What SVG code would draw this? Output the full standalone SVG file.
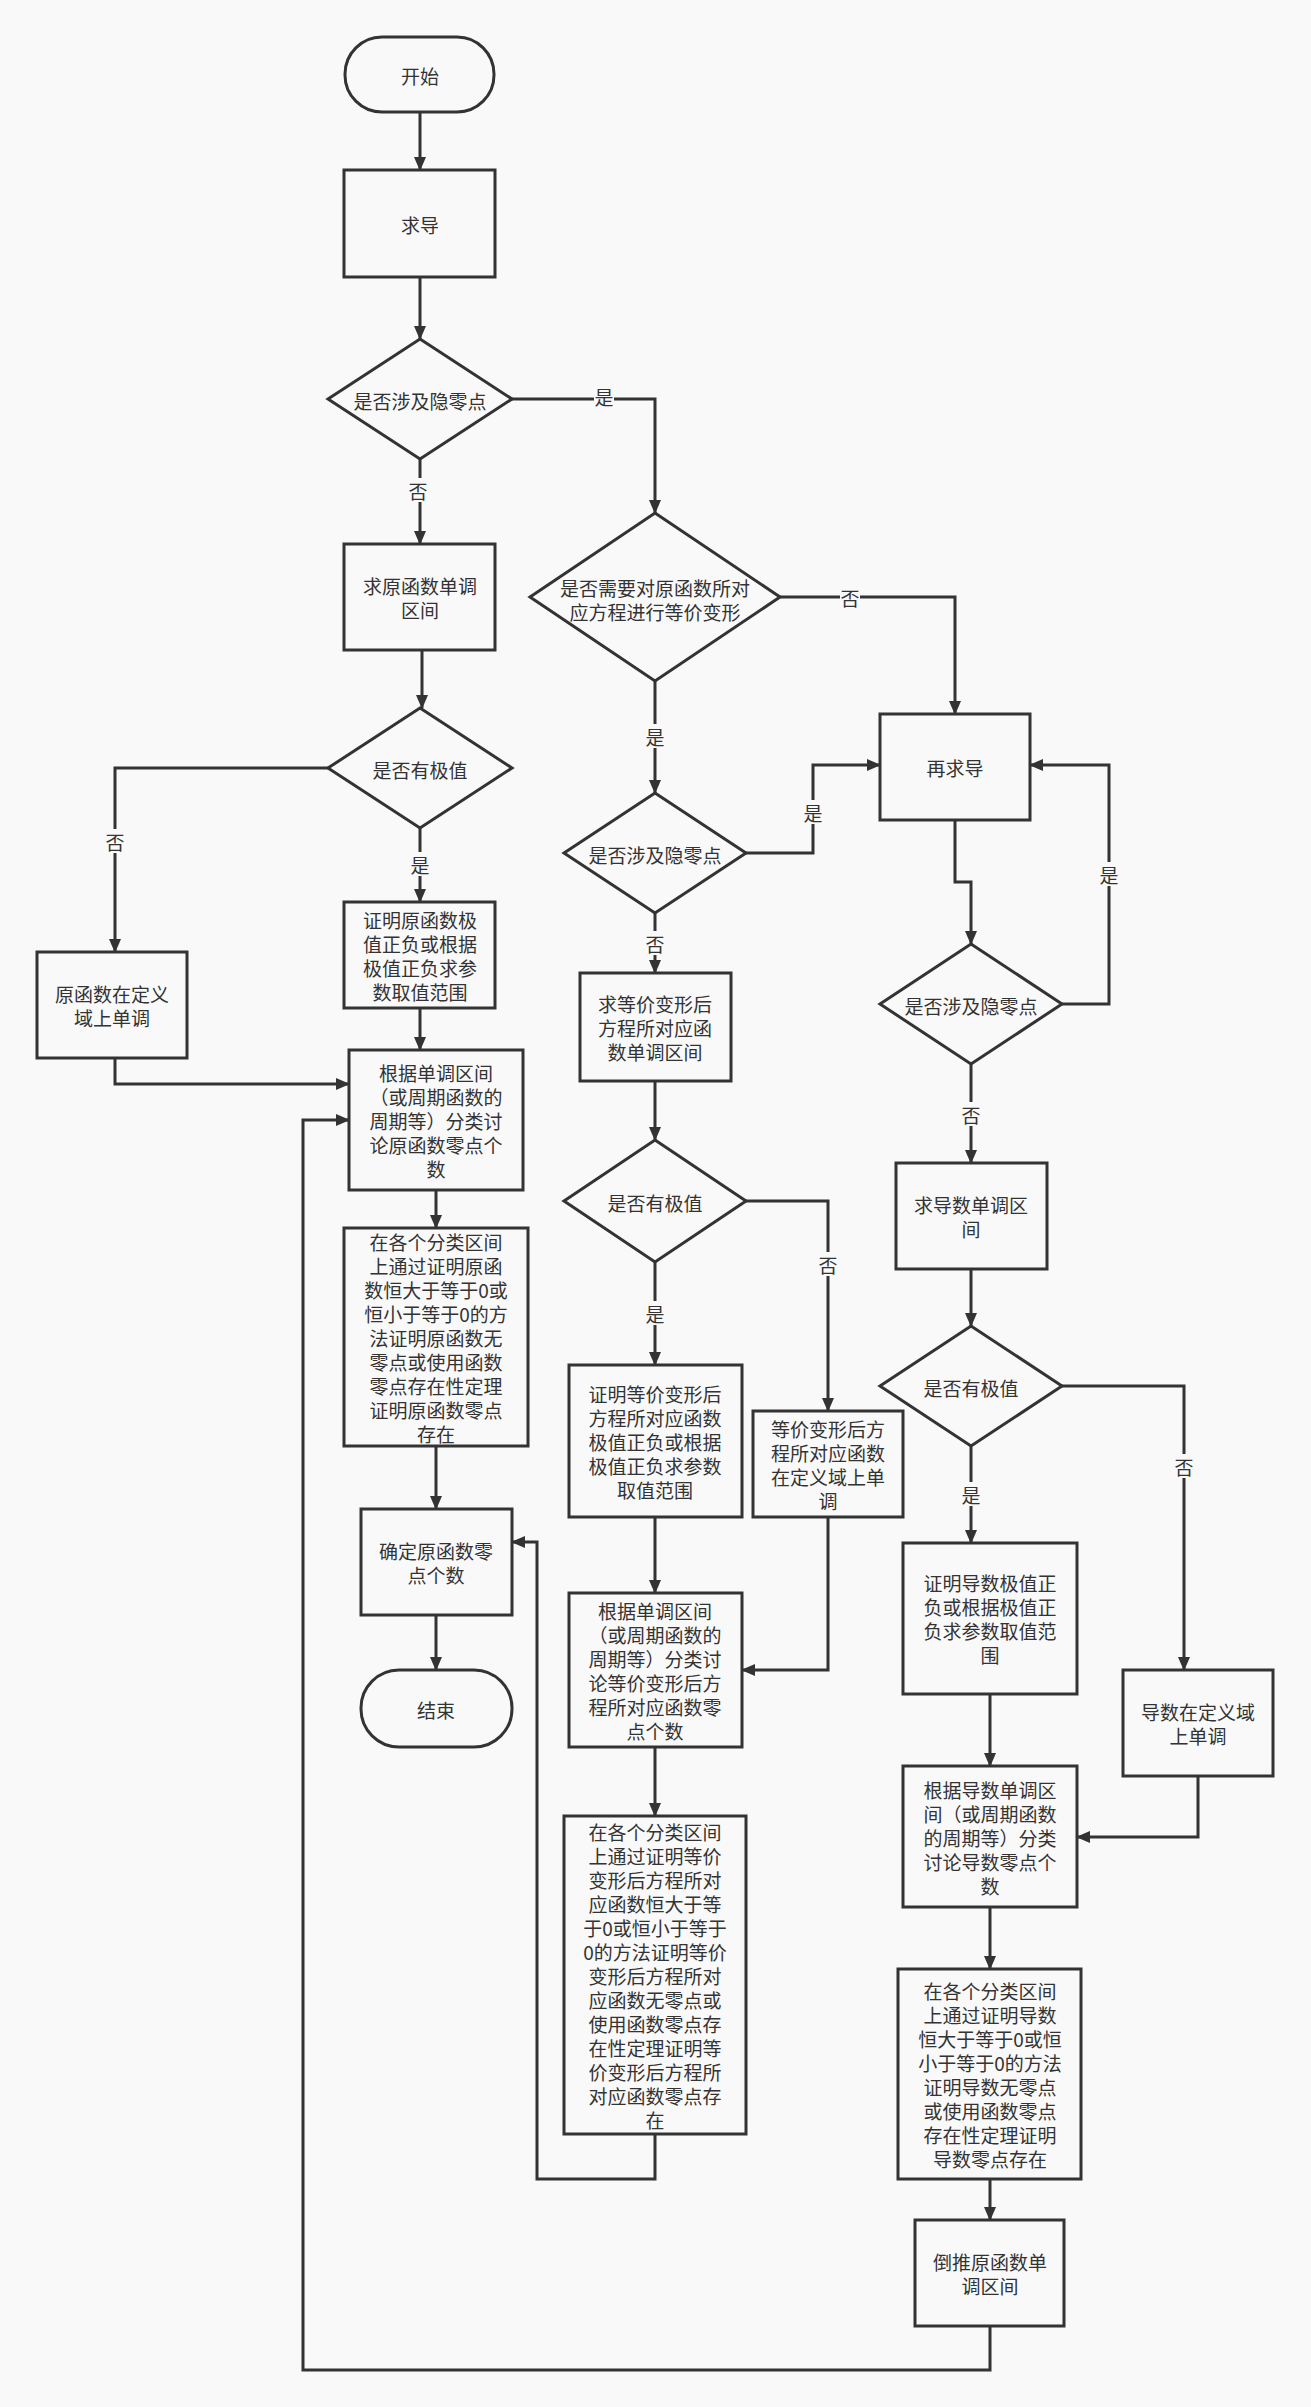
<svg xmlns="http://www.w3.org/2000/svg" width="1311" height="2407" viewBox="0 0 1311 2407">
<style>
.n{fill:#f9f9f9;stroke:#333;stroke-width:3}
.t{font-family:"Noto Sans CJK SC","Liberation Sans",sans-serif;font-size:19px;fill:#333;text-anchor:middle;dominant-baseline:central}
.c{fill:none;stroke:#333;stroke-width:3}
.lb{fill:#f9f9f9}
</style>
<defs><marker id="a" markerUnits="userSpaceOnUse" markerWidth="14" markerHeight="14" refX="13" refY="7" orient="auto"><path d="M0,1 L14,7 L0,13 Z" fill="#333"/></marker></defs>
<rect width="1311" height="2407" fill="#f9f9f9"/>
<g id="connectors">
<polyline class="c" marker-end="url(#a)" points="420,112 420,170"/>
<polyline class="c" marker-end="url(#a)" points="420,277 420,339"/>
<polyline class="c" marker-end="url(#a)" points="420,459 420,544"/>
<polyline class="c" marker-end="url(#a)" points="512,399 655,399 655,513"/>
<polyline class="c" marker-end="url(#a)" points="422,650 422,708"/>
<polyline class="c" marker-end="url(#a)" points="328,768 115,768 115,952"/>
<polyline class="c" marker-end="url(#a)" points="420,828 420,902"/>
<polyline class="c" marker-end="url(#a)" points="115,1058 115,1084 349,1084"/>
<polyline class="c" marker-end="url(#a)" points="420,1008 420,1050"/>
<polyline class="c" marker-end="url(#a)" points="436,1190 436,1228"/>
<polyline class="c" marker-end="url(#a)" points="436,1446 436,1509"/>
<polyline class="c" marker-end="url(#a)" points="436,1615 436,1670"/>
<polyline class="c" marker-end="url(#a)" points="780,597 955,597 955,714"/>
<polyline class="c" marker-end="url(#a)" points="655,681 655,793"/>
<polyline class="c" marker-end="url(#a)" points="746,853 813,853 813,765 880,765"/>
<polyline class="c" marker-end="url(#a)" points="655,913 655,973"/>
<polyline class="c" marker-end="url(#a)" points="655,1081 655,1140"/>
<polyline class="c" marker-end="url(#a)" points="746,1201 828,1201 828,1411"/>
<polyline class="c" marker-end="url(#a)" points="655,1262 655,1365"/>
<polyline class="c" marker-end="url(#a)" points="655,1517 655,1593"/>
<polyline class="c" marker-end="url(#a)" points="828,1517 828,1670 742,1670"/>
<polyline class="c" marker-end="url(#a)" points="655,1747 655,1816"/>
<polyline class="c" marker-end="url(#a)" points="655,2134 655,2179 537,2179 537,1542 512,1542"/>
<polyline class="c" marker-end="url(#a)" points="955,820 955,882 971,882 971,944"/>
<polyline class="c" marker-end="url(#a)" points="1062,1004 1109,1004 1109,765 1030,765"/>
<polyline class="c" marker-end="url(#a)" points="971,1064 971,1163"/>
<polyline class="c" marker-end="url(#a)" points="971,1269 971,1326"/>
<polyline class="c" marker-end="url(#a)" points="971,1446 971,1543"/>
<polyline class="c" marker-end="url(#a)" points="1062,1386 1184,1386 1184,1670"/>
<polyline class="c" marker-end="url(#a)" points="990,1694 990,1766"/>
<polyline class="c" marker-end="url(#a)" points="1198,1776 1198,1837 1077,1837"/>
<polyline class="c" marker-end="url(#a)" points="990,1907 990,1969"/>
<polyline class="c" marker-end="url(#a)" points="990,2179 990,2220"/>
<polyline class="c" marker-end="url(#a)" points="990,2326 990,2370 303,2370 303,1120 349,1120"/>
<g>
<rect class="lb" x="408" y="478" width="20" height="24"/><text class="t" x="418" y="490">否</text>
<rect class="lb" x="594" y="386" width="20" height="24"/><text class="t" x="604" y="396">是</text>
<rect class="lb" x="105" y="829" width="20" height="24"/><text class="t" x="115" y="841">否</text>
<rect class="lb" x="410" y="852" width="20" height="24"/><text class="t" x="420" y="864">是</text>
<rect class="lb" x="840" y="585" width="20" height="24"/><text class="t" x="850" y="597">否</text>
<rect class="lb" x="645" y="724" width="20" height="24"/><text class="t" x="655" y="736">是</text>
<rect class="lb" x="803" y="800" width="20" height="24"/><text class="t" x="813" y="812">是</text>
<rect class="lb" x="645" y="931" width="20" height="24"/><text class="t" x="655" y="943">否</text>
<rect class="lb" x="818" y="1252" width="20" height="24"/><text class="t" x="828" y="1264">否</text>
<rect class="lb" x="645" y="1301" width="20" height="24"/><text class="t" x="655" y="1313">是</text>
<rect class="lb" x="1099" y="862" width="20" height="24"/><text class="t" x="1109" y="874">是</text>
<rect class="lb" x="961" y="1102" width="20" height="24"/><text class="t" x="971" y="1114">否</text>
<rect class="lb" x="961" y="1482" width="20" height="24"/><text class="t" x="971" y="1494">是</text>
<rect class="lb" x="1174" y="1454" width="20" height="24"/><text class="t" x="1184" y="1466">否</text>
</g>
</g>
<g id="start"><rect class="n" x="345" y="37" width="149" height="75" rx="37"/><text class="t" x="420" y="75">开始</text></g>
<g id="qiudao"><rect class="n" x="344" y="170" width="151" height="107"/><text class="t" x="420" y="224">求导</text></g>
<g id="d1"><polygon class="n" points="420,339 512,399 420,459 328,399"/><text class="t" x="420" y="400">是否涉及隐零点</text></g>
<g id="yuandandiao"><rect class="n" x="344" y="544" width="151" height="106"/><text class="t" x="420" y="585">求原函数单调</text><text class="t" x="420" y="609">区间</text></g>
<g id="d2"><polygon class="n" points="655,513 780,597 655,681 530,597"/><text class="t" x="655" y="587">是否需要对原函数所对</text><text class="t" x="655" y="611">应方程进行等价变形</text></g>
<g id="zaiqiudao"><rect class="n" x="880" y="714" width="150" height="106"/><text class="t" x="955" y="767">再求导</text></g>
<g id="d3"><polygon class="n" points="420,708 512,768 420,828 328,768"/><text class="t" x="420" y="769">是否有极值</text></g>
<g id="yuandingyi"><rect class="n" x="37" y="952" width="150" height="106"/><text class="t" x="112" y="993">原函数在定义</text><text class="t" x="112" y="1017">域上单调</text></g>
<g id="zhengyuan"><rect class="n" x="344" y="902" width="151" height="106"/><text class="t" x="420" y="919">证明原函数极</text><text class="t" x="420" y="943">值正负或根据</text><text class="t" x="420" y="967">极值正负求参</text><text class="t" x="420" y="991">数取值范围</text></g>
<g id="genjuyuan"><rect class="n" x="349" y="1050" width="174" height="140"/><text class="t" x="436" y="1072">根据单调区间</text><text class="t" x="436" y="1096">（或周期函数的</text><text class="t" x="436" y="1120">周期等）分类讨</text><text class="t" x="436" y="1144">论原函数零点个</text><text class="t" x="436" y="1168">数</text></g>
<g id="geyuan"><rect class="n" x="344" y="1228" width="184" height="218"/><text class="t" x="436" y="1241">在各个分类区间</text><text class="t" x="436" y="1265">上通过证明原函</text><text class="t" x="436" y="1289">数恒大于等于0或</text><text class="t" x="436" y="1313">恒小于等于0的方</text><text class="t" x="436" y="1337">法证明原函数无</text><text class="t" x="436" y="1361">零点或使用函数</text><text class="t" x="436" y="1385">零点存在性定理</text><text class="t" x="436" y="1409">证明原函数零点</text><text class="t" x="436" y="1433">存在</text></g>
<g id="queding"><rect class="n" x="361" y="1509" width="151" height="106"/><text class="t" x="436" y="1550">确定原函数零</text><text class="t" x="436" y="1574">点个数</text></g>
<g id="end"><rect class="n" x="361" y="1670" width="151" height="77" rx="38"/><text class="t" x="436" y="1709">结束</text></g>
<g id="d4"><polygon class="n" points="655,793 746,853 655,913 564,853"/><text class="t" x="655" y="854">是否涉及隐零点</text></g>
<g id="dengjiadandiao"><rect class="n" x="580" y="973" width="151" height="108"/><text class="t" x="655" y="1003">求等价变形后</text><text class="t" x="655" y="1027">方程所对应函</text><text class="t" x="655" y="1051">数单调区间</text></g>
<g id="d5"><polygon class="n" points="655,1140 746,1201 655,1262 564,1201"/><text class="t" x="655" y="1202">是否有极值</text></g>
<g id="zhengdengjia"><rect class="n" x="569" y="1365" width="173" height="152"/><text class="t" x="655" y="1393">证明等价变形后</text><text class="t" x="655" y="1417">方程所对应函数</text><text class="t" x="655" y="1441">极值正负或根据</text><text class="t" x="655" y="1465">极值正负求参数</text><text class="t" x="655" y="1489">取值范围</text></g>
<g id="dengjiadingyi"><rect class="n" x="753" y="1411" width="150" height="106"/><text class="t" x="828" y="1428">等价变形后方</text><text class="t" x="828" y="1452">程所对应函数</text><text class="t" x="828" y="1476">在定义域上单</text><text class="t" x="828" y="1500">调</text></g>
<g id="genjudengjia"><rect class="n" x="569" y="1593" width="173" height="154"/><text class="t" x="655" y="1610">根据单调区间</text><text class="t" x="655" y="1634">（或周期函数的</text><text class="t" x="655" y="1658">周期等）分类讨</text><text class="t" x="655" y="1682">论等价变形后方</text><text class="t" x="655" y="1706">程所对应函数零</text><text class="t" x="655" y="1730">点个数</text></g>
<g id="gedengjia"><rect class="n" x="564" y="1816" width="182" height="318"/><text class="t" x="655" y="1831">在各个分类区间</text><text class="t" x="655" y="1855">上通过证明等价</text><text class="t" x="655" y="1879">变形后方程所对</text><text class="t" x="655" y="1903">应函数恒大于等</text><text class="t" x="655" y="1927">于0或恒小于等于</text><text class="t" x="655" y="1951">0的方法证明等价</text><text class="t" x="655" y="1975">变形后方程所对</text><text class="t" x="655" y="1999">应函数无零点或</text><text class="t" x="655" y="2023">使用函数零点存</text><text class="t" x="655" y="2047">在性定理证明等</text><text class="t" x="655" y="2071">价变形后方程所</text><text class="t" x="655" y="2095">对应函数零点存</text><text class="t" x="655" y="2119">在</text></g>
<g id="d6"><polygon class="n" points="971,944 1062,1004 971,1064 880,1004"/><text class="t" x="971" y="1005">是否涉及隐零点</text></g>
<g id="daoshudandiao"><rect class="n" x="896" y="1163" width="151" height="106"/><text class="t" x="971" y="1204">求导数单调区</text><text class="t" x="971" y="1228">间</text></g>
<g id="d7"><polygon class="n" points="971,1326 1062,1386 971,1446 880,1386"/><text class="t" x="971" y="1387">是否有极值</text></g>
<g id="zhengdaoshu"><rect class="n" x="903" y="1543" width="174" height="151"/><text class="t" x="990" y="1582">证明导数极值正</text><text class="t" x="990" y="1606">负或根据极值正</text><text class="t" x="990" y="1630">负求参数取值范</text><text class="t" x="990" y="1654">围</text></g>
<g id="daoshudingyi"><rect class="n" x="1123" y="1670" width="150" height="106"/><text class="t" x="1198" y="1711">导数在定义域</text><text class="t" x="1198" y="1735">上单调</text></g>
<g id="genjudaoshu"><rect class="n" x="903" y="1766" width="174" height="141"/><text class="t" x="990" y="1789">根据导数单调区</text><text class="t" x="990" y="1813">间（或周期函数</text><text class="t" x="990" y="1837">的周期等）分类</text><text class="t" x="990" y="1861">讨论导数零点个</text><text class="t" x="990" y="1885">数</text></g>
<g id="gedaoshu"><rect class="n" x="898" y="1969" width="183" height="210"/><text class="t" x="990" y="1990">在各个分类区间</text><text class="t" x="990" y="2014">上通过证明导数</text><text class="t" x="990" y="2038">恒大于等于0或恒</text><text class="t" x="990" y="2062">小于等于0的方法</text><text class="t" x="990" y="2086">证明导数无零点</text><text class="t" x="990" y="2110">或使用函数零点</text><text class="t" x="990" y="2134">存在性定理证明</text><text class="t" x="990" y="2158">导数零点存在</text></g>
<g id="daotui"><rect class="n" x="915" y="2220" width="149" height="106"/><text class="t" x="990" y="2261">倒推原函数单</text><text class="t" x="990" y="2285">调区间</text></g>
</svg>
